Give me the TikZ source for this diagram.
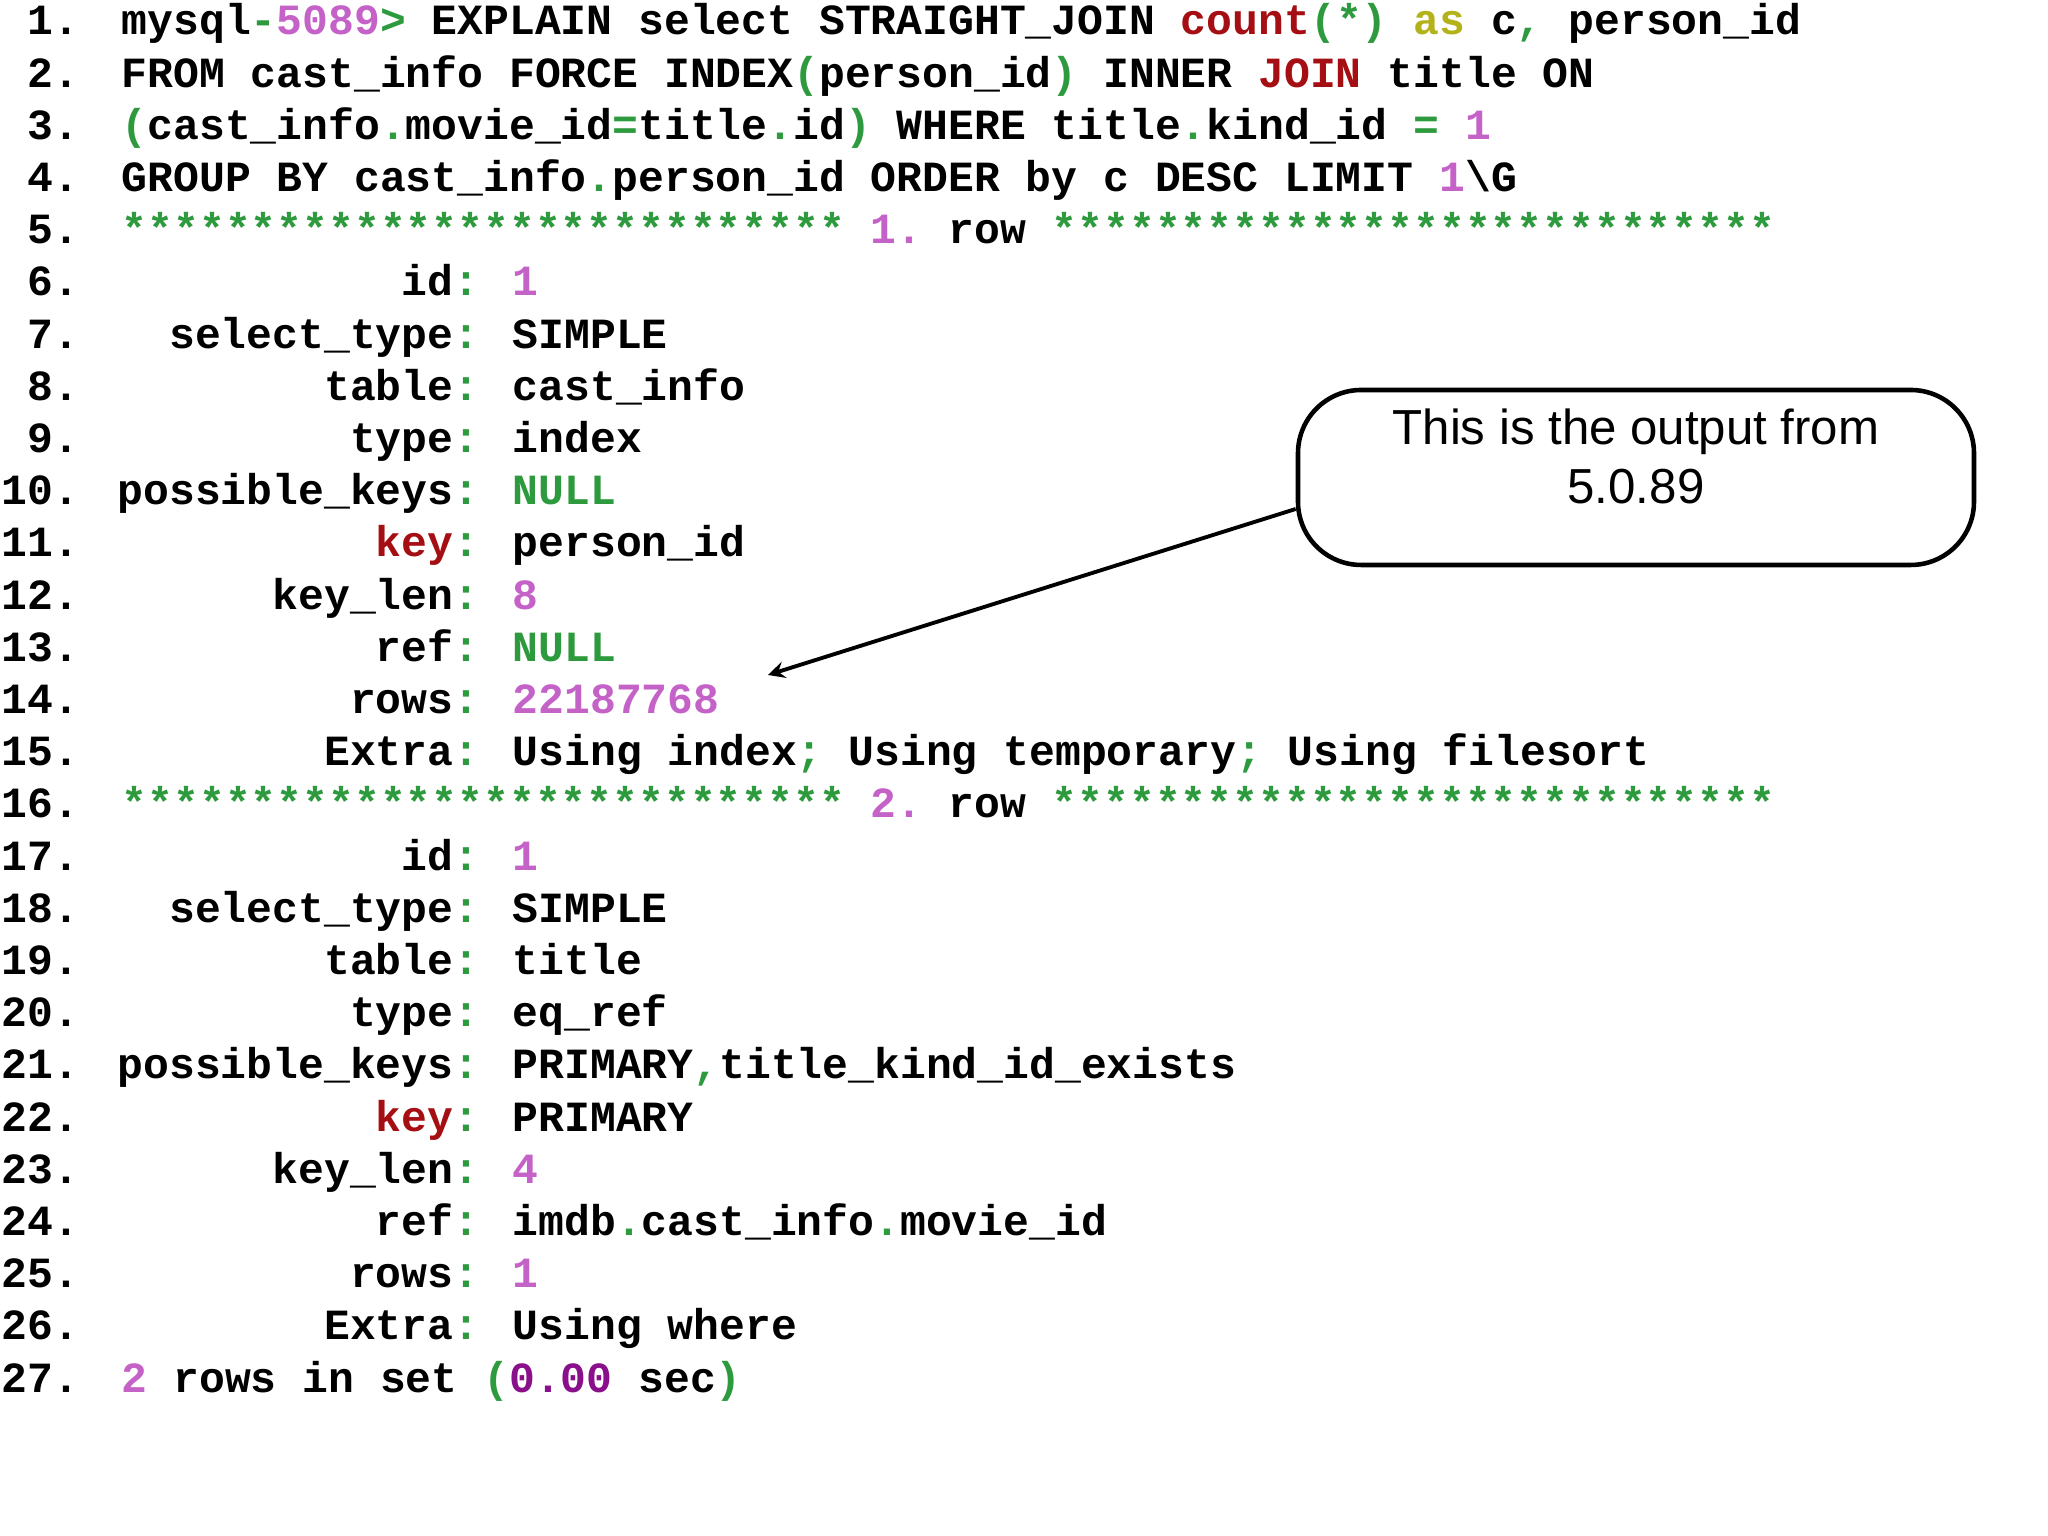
\documentclass[tikz,border=0pt]{standalone}
\usepackage{fontspec}
\setmonofont{Liberation Mono}
\setsansfont{Liberation Sans}
\definecolor{cg}{HTML}{2E9A3E}
\definecolor{cm}{HTML}{C462C8}
\definecolor{cr}{HTML}{A50E12}
\definecolor{cy}{HTML}{B3B21A}
\definecolor{cp}{HTML}{8A0F8A}
\newcommand{\Gc}[1]{\textcolor{cg}{#1}}
\newcommand{\Mc}[1]{\textcolor{cm}{#1}}
\newcommand{\Rc}[1]{\textcolor{cr}{#1}}
\newcommand{\Yc}[1]{\textcolor{cy}{#1}}
\newcommand{\Pc}[1]{\textcolor{cp}{#1}}
\newcommand{\stars}{\Gc{****************************}}
\begin{document}
\begin{tikzpicture}[x=1cm,y=1cm,
  code/.style={anchor=base west,inner sep=0pt,font=\ttfamily\bfseries\fontsize{12.25}{14}\selectfont},
  lnum/.style={anchor=base east,inner sep=0pt,font=\ttfamily\bfseries\fontsize{12.25}{14}\selectfont},
  keyn/.style={anchor=base east,inner sep=0pt,font=\ttfamily\bfseries\fontsize{12.25}{14}\selectfont},
  callout/.style={draw,line width=1.3pt,rounded corners=18pt,minimum width=6.76cm,minimum height=1.75cm,inner sep=0pt},
  arr/.style={-stealth,line width=1.1pt}]
\useasboundingbox (0,0) rectangle (20.48,15.36);
\def\X{1.21}
\def\C{4.80}
\def\V{5.12}
\foreach \i in {1,...,27}{
  \node[lnum] (n\i) at (0.80,{15.01-(\i-1)*0.522}) {\i.};
}
\def\Y#1{{15.01-(#1-1)*0.522}}
\node[code] (l1) at (\X,\Y{1}) {mysql\Gc{-}\Mc{5089}\Gc{>} EXPLAIN select STRAIGHT\_JOIN \Rc{count}\Gc{(*)} \Yc{as} c\Gc{,} person\_id};
\node[code] (l2) at (\X,\Y{2}) {FROM cast\_info FORCE INDEX\Gc{(}person\_id\Gc{)} INNER \Rc{JOIN} title ON};
\node[code] (l3) at (\X,\Y{3}) {\Gc{(}cast\_info\Gc{.}movie\_id\Gc{=}title\Gc{.}id\Gc{)} WHERE title\Gc{.}kind\_id \Gc{=} \Mc{1}};
\node[code] (l4) at (\X,\Y{4}) {GROUP BY cast\_info\Gc{.}person\_id ORDER by c DESC LIMIT \Mc{1}\textbackslash G};
\node[code] (l5) at (\X,\Y{5}) {\stars{} \Mc{1.} row \stars};
\node[code] (l16) at (\X,\Y{16}) {\stars{} \Mc{2.} row \stars};
\node[code] (l27) at (\X,\Y{27}) {\Mc{2} rows in set \Gc{(}\Pc{0.00} sec\Gc{)}};
\foreach \r/\k/\v in {
 6/id\Gc{:}/\Mc{1},
 7/select\_type\Gc{:}/SIMPLE,
 8/table\Gc{:}/cast\_info,
 9/type\Gc{:}/index,
 10/possible\_keys\Gc{:}/\Gc{NULL},
 11/\Rc{key}\Gc{:}/person\_id,
 12/key\_len\Gc{:}/\Mc{8},
 13/ref\Gc{:}/\Gc{NULL},
 14/rows\Gc{:}/\Mc{22187768},
 15/Extra\Gc{:}/Using index\Gc{;} Using temporary\Gc{;} Using filesort,
 17/id\Gc{:}/\Mc{1},
 18/select\_type\Gc{:}/SIMPLE,
 19/table\Gc{:}/title,
 20/type\Gc{:}/eq\_ref,
 21/possible\_keys\Gc{:}/PRIMARY\Gc{,}title\_kind\_id\_exists,
 22/\Rc{key}\Gc{:}/PRIMARY,
 23/key\_len\Gc{:}/\Mc{4},
 24/ref\Gc{:}/imdb\Gc{.}cast\_info\Gc{.}movie\_id,
 25/rows\Gc{:}/\Mc{1},
 26/Extra\Gc{:}/Using where}{
  \node[keyn] (k\r) at (\C,\Y{\r}) {\k};
  \node[code] (v\r) at (\V,\Y{\r}) {\v};
}
\node[callout] (box) at (16.36,10.585) {};
\node[font=\sffamily\fontsize{14}{17}\selectfont,align=center,anchor=north] (btxt) at (16.36,11.40) {This is the output from\\5.0.89};
\coordinate (as) at (box.west |- 0,10.27);
\coordinate (ae) at (7.68,8.61);
\draw[arr] (as) -- (ae);
\end{tikzpicture}
\end{document}
